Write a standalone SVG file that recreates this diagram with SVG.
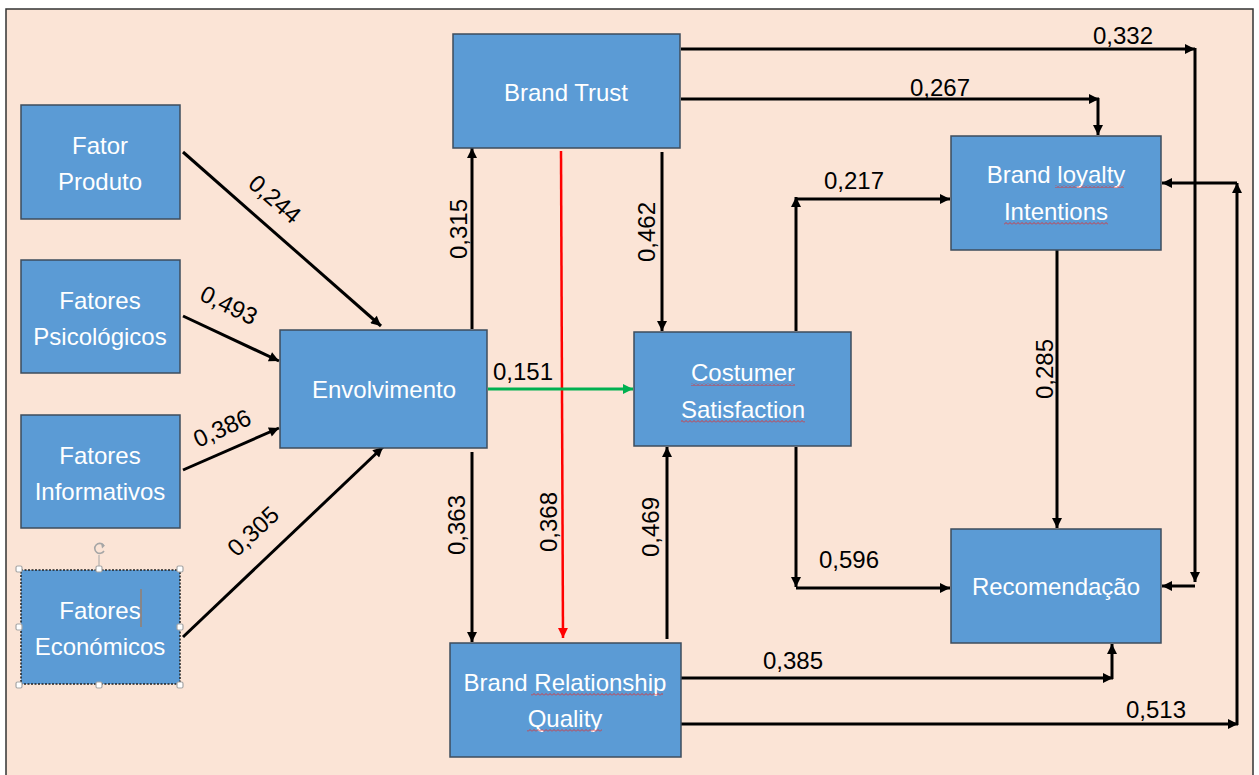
<svg xmlns="http://www.w3.org/2000/svg" width="1259" height="775" viewBox="0 0 1259 775">
  <style>
    .box { fill: #5B9BD5; stroke: #3E4C5C; stroke-width: 1.5; }
    .node text { fill: #FFFFFF; font-family: "Liberation Sans", Arial, sans-serif; font-size: 24px; text-anchor: middle; }
    .lbl { fill: #000000; font-family: "Liberation Sans", Arial, sans-serif; font-size: 24px; text-anchor: middle; }
    .edge { fill: none; stroke: #000000; stroke-width: 3; marker-end: url(#ah); }
    .handle { fill: #FFFFFF; stroke: #A6A6A6; stroke-width: 1.2; }
    .spell { fill: url(#squiggle); stroke: none; }
  </style>
  <defs>
    <marker id="ah" viewBox="0 0 10 10" refX="10" refY="5" markerWidth="11" markerHeight="10" markerUnits="userSpaceOnUse" orient="auto">
      <path d="M0,0 L10,5 L0,10 z" fill="#000000"/>
    </marker>
    <marker id="ahRed" viewBox="0 0 10 10" refX="10" refY="5" markerWidth="11" markerHeight="10" markerUnits="userSpaceOnUse" orient="auto">
      <path d="M0,0 L10,5 L0,10 z" fill="#FF0000"/>
    </marker>
    <marker id="ahGreen" viewBox="0 0 10 10" refX="10" refY="5" markerWidth="11" markerHeight="10" markerUnits="userSpaceOnUse" orient="auto">
      <path d="M0,0 L10,5 L0,10 z" fill="#00B050"/>
    </marker>
    <pattern id="squiggle" x="0" y="0" width="4" height="3" patternUnits="userSpaceOnUse">
      <path d="M0,2.5 L2,0.5 L4,2.5" fill="none" stroke="#E03030" stroke-width="0.9"/>
    </pattern>
  </defs>

  <!-- page and slide frame -->
  <rect x="0" y="0" width="1259" height="775" fill="#FFFFFF"/>
  <rect x="6" y="9" width="1247" height="775" fill="#FBE4D6" stroke="#333333" stroke-width="1.5"/>

  <!-- connectors -->
  <g id="connectors">
    <line class="edge" x1="183" y1="152" x2="381" y2="326"/>
    <line class="edge" x1="183" y1="316" x2="279" y2="361"/>
    <line class="edge" x1="183" y1="470" x2="279" y2="428"/>
    <line class="edge" x1="183" y1="637" x2="383" y2="447"/>

    <line class="edge" x1="472" y1="329" x2="472" y2="148"/>
    <line class="edge" x1="472" y1="452" x2="472" y2="642"/>
    <line class="edge" x1="662" y1="152" x2="662" y2="331"/>
    <line class="edge" x1="667" y1="639" x2="667" y2="447"/>

    <line x1="561" y1="151" x2="563" y2="638" fill="none" stroke="#FF0000" stroke-width="2.5" marker-end="url(#ahRed)"/>
    <line x1="488" y1="389" x2="633" y2="389" fill="none" stroke="#00B050" stroke-width="3" marker-end="url(#ahGreen)"/>

    <line class="edge" x1="796" y1="331" x2="796" y2="197"/>
    <line class="edge" x1="796" y1="199" x2="950" y2="199"/>

    <line class="edge" x1="796" y1="447" x2="796" y2="587"/>
    <line class="edge" x1="796" y1="588" x2="950" y2="588"/>

    <line class="edge" x1="681" y1="49" x2="1195" y2="49"/>
    <line class="edge" x1="1195" y1="48" x2="1195" y2="582"/>
    <line class="edge" x1="1195" y1="586" x2="1162" y2="586"/>

    <line class="edge" x1="681" y1="99" x2="1099" y2="99"/>
    <line class="edge" x1="1098" y1="98" x2="1098" y2="135"/>

    <line class="edge" x1="1057" y1="250" x2="1057" y2="528"/>

    <line class="edge" x1="681" y1="678" x2="1113" y2="678"/>
    <line class="edge" x1="1112" y1="679" x2="1112" y2="644"/>

    <line class="edge" x1="681" y1="724" x2="1238" y2="724"/>
    <line class="edge" x1="1237" y1="725" x2="1237" y2="183"/>
    <line class="edge" x1="1237" y1="183" x2="1162" y2="183"/>
  </g>

  <!-- path coefficients -->
  <g id="labels">
    <text class="lbl" transform="translate(275,199) rotate(41)" dy="0.35em">0,244</text>
    <text class="lbl" transform="translate(229,305) rotate(26)" dy="0.35em">0,493</text>
    <text class="lbl" transform="translate(222,428) rotate(-24)" dy="0.35em">0,386</text>
    <text class="lbl" transform="translate(253,531) rotate(-43)" dy="0.35em">0,305</text>

    <text class="lbl" transform="translate(467,229) rotate(-90)">0,315</text>
    <text class="lbl" transform="translate(655,232) rotate(-90)">0,462</text>
    <text class="lbl" transform="translate(557,522) rotate(-90)">0,368</text>
    <text class="lbl" transform="translate(465,525) rotate(-90)">0,363</text>
    <text class="lbl" transform="translate(659,527) rotate(-90)">0,469</text>
    <text class="lbl" transform="translate(1053,369) rotate(-90)">0,285</text>

    <text class="lbl" x="523" y="380">0,151</text>
    <text class="lbl" x="1123" y="44">0,332</text>
    <text class="lbl" x="940" y="96">0,267</text>
    <text class="lbl" x="854" y="189">0,217</text>
    <text class="lbl" x="849" y="568">0,596</text>
    <text class="lbl" x="793" y="669">0,385</text>
    <text class="lbl" x="1156" y="718">0,513</text>
  </g>

  <!-- antecedent factors -->
  <g id="fator-produto" class="node">
    <rect class="box" x="21" y="105" width="159" height="114"/>
    <text x="100" y="154">Fator</text>
    <text x="100" y="190">Produto</text>
  </g>
  <g id="fatores-psicologicos" class="node">
    <rect class="box" x="21" y="260" width="159" height="113"/>
    <text x="100" y="309">Fatores</text>
    <text x="100" y="345">Psicológicos</text>
  </g>
  <g id="fatores-informativos" class="node">
    <rect class="box" x="21" y="415" width="159" height="113"/>
    <text x="100" y="464">Fatores</text>
    <text x="100" y="500">Informativos</text>
  </g>
  <g id="fatores-economicos" class="node">
    <rect class="box" x="21" y="570" width="159" height="114" style="stroke:#222222;stroke-dasharray:2 1.5"/>
    <text x="100" y="619">Fatores</text>
    <text x="100" y="655">Económicos</text>
    <!-- editing caret and selection handles -->
    <line x1="141" y1="589" x2="141" y2="627" stroke="#B5703A" stroke-width="1"/>
    <line x1="99" y1="555" x2="99" y2="569" stroke="#A6A6A6" stroke-width="1"/>
    <path d="M103.5,545 A5,5 0 1 0 104,551" fill="none" stroke="#A6A6A6" stroke-width="1.6"/>
    <path d="M101,543 L105,545.5 L102,548.5 z" fill="#A6A6A6"/>
    <rect class="handle" x="16" y="566" width="6" height="6" rx="1.5"/>
    <rect class="handle" x="96" y="566" width="6" height="6" rx="1.5"/>
    <rect class="handle" x="177" y="566" width="6" height="6" rx="1.5"/>
    <rect class="handle" x="16" y="624" width="6" height="6" rx="1.5"/>
    <rect class="handle" x="177" y="624" width="6" height="6" rx="1.5"/>
    <rect class="handle" x="16" y="682" width="6" height="6" rx="1.5"/>
    <rect class="handle" x="96" y="682" width="6" height="6" rx="1.5"/>
    <rect class="handle" x="177" y="682" width="6" height="6" rx="1.5"/>
  </g>

  <!-- mediators and outcomes -->
  <g id="envolvimento" class="node">
    <rect class="box" x="280" y="330" width="207" height="118"/>
    <text x="384" y="398">Envolvimento</text>
  </g>
  <g id="brand-trust" class="node">
    <rect class="box" x="453" y="34" width="227" height="114"/>
    <text x="566" y="101">Brand Trust</text>
  </g>
  <g id="costumer-satisfaction" class="node">
    <rect class="box" x="634" y="332" width="217" height="114"/>
    <text x="743" y="381">Costumer</text>
    <text x="743" y="418">Satisfaction</text>
    <rect class="spell" x="691" y="383" width="104" height="3"/>
    <rect class="spell" x="681" y="420" width="124" height="3"/>
  </g>
  <g id="brand-relationship-quality" class="node">
    <rect class="box" x="450" y="643" width="231" height="114"/>
    <text x="565" y="691">Brand Relationship</text>
    <text x="565" y="727">Quality</text>
    <rect class="spell" x="531" y="693" width="132" height="3"/>
    <rect class="spell" x="527" y="729" width="75" height="3"/>
  </g>
  <g id="brand-loyalty-intentions" class="node">
    <rect class="box" x="951" y="136" width="210" height="114"/>
    <text x="1056" y="183">Brand loyalty</text>
    <text x="1056" y="220">Intentions</text>
    <rect class="spell" x="1055" y="185" width="69" height="3"/>
    <rect class="spell" x="1004" y="222" width="104" height="3"/>
  </g>
  <g id="recomendacao" class="node">
    <rect class="box" x="951" y="529" width="210" height="114"/>
    <text x="1056" y="595">Recomendação</text>
  </g>
</svg>
